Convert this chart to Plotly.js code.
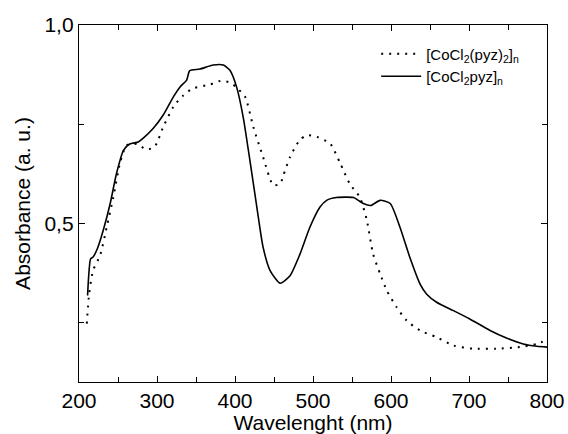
<!DOCTYPE html>
<html>
<head>
<meta charset="utf-8">
<script src="https://cdn.plot.ly/plotly-3.0.1.min.js"></script>
<style>html,body{margin:0;padding:0;background:#fff;}#chart{width:568px;height:434px;}</style>
</head>
<body>
<div id="chart"></div>
<script>
// [CoCl2(pyz)2]n  (dotted)
const wlDotted = [210, 213, 218, 227, 235.5, 244, 252.5, 261, 274, 287, 297, 308, 321, 334, 346, 368, 381, 394, 402, 413, 423.5, 436, 449, 458, 462, 470.5, 483, 492, 505, 522, 535, 547, 560, 569, 577, 586, 594.5, 607, 620, 637, 658.5, 680, 705, 735, 765, 787, 800];
const absDotted = [0.247, 0.322, 0.381, 0.419, 0.49, 0.566, 0.651, 0.697, 0.70, 0.686, 0.693, 0.743, 0.794, 0.823, 0.84, 0.85, 0.859, 0.855, 0.842, 0.819, 0.743, 0.667, 0.596, 0.600, 0.621, 0.667, 0.71, 0.722, 0.718, 0.701, 0.651, 0.60, 0.566, 0.508, 0.423, 0.373, 0.331, 0.289, 0.255, 0.23, 0.213, 0.192, 0.184, 0.184, 0.188, 0.196, 0.206];

// [CoCl2pyz]n  (solid)
const wlSolid = [211, 215, 218, 223.5, 231, 240, 248, 257, 265, 276, 282, 295, 308, 321, 329.5, 338, 342, 355, 372, 385, 393.5, 402, 410.5, 419, 428, 436, 445, 458, 470.5, 483, 496, 509, 517.5, 530, 552, 558, 564.5, 574, 586, 599, 611.5, 624, 637, 645.5, 658.5, 680, 701, 727, 748, 769.5, 787, 800];
const absSolid = [0.318, 0.411, 0.415, 0.436, 0.482, 0.55, 0.625, 0.684, 0.70, 0.705, 0.714, 0.739, 0.773, 0.819, 0.844, 0.861, 0.885, 0.889, 0.899, 0.899, 0.886, 0.844, 0.768, 0.66, 0.541, 0.44, 0.381, 0.349, 0.368, 0.421, 0.49, 0.541, 0.558, 0.565, 0.565, 0.558, 0.55, 0.545, 0.558, 0.55, 0.49, 0.415, 0.348, 0.322, 0.301, 0.28, 0.259, 0.23, 0.211, 0.196, 0.19, 0.188];

const seriesNames = ['[CoCl<sub>2</sub>(pyz)<sub>2</sub>]<sub>n</sub>', '[CoCl<sub>2</sub>pyz]<sub>n</sub>'];
const xTitle = 'Wavelenght (nm)';
const yTitle = 'Absorbance (a. u.)';

const font = 'Liberation Sans, Arial, sans-serif';

const traces = [
  {x: wlDotted, y: absDotted, name: seriesNames[0], mode: 'lines', type: 'scatter',
   line: {color: '#000', width: 2, dash: '2px,6px', shape: 'spline', smoothing: 0.6}},
  {x: wlSolid, y: absSolid, name: seriesNames[1], mode: 'lines', type: 'scatter',
   line: {color: '#000', width: 1.6, shape: 'spline', smoothing: 0.6}}
];

const layout = {
  width: 568, height: 434,
  margin: {l: 79, r: 21, t: 25, b: 52},
  paper_bgcolor: '#fff', plot_bgcolor: '#fff',
  separators: ',.',
  font: {family: font, color: '#000', size: 21},
  showlegend: true,
  legend: {x: 0.635, y: 0.965, xanchor: 'left', yanchor: 'top', bgcolor: 'rgba(0,0,0,0)',
           font: {size: 15, family: font}, tracegroupgap: 0, itemwidth: 40},
  xaxis: {
    range: [200, 800], tick0: 200, dtick: 100, ticks: 'inside', ticklen: 6, tickcolor: '#000',
    showline: true, linecolor: '#000', linewidth: 1.2, mirror: 'ticks', showgrid: false, zeroline: false,
    minor: {ticks: 'inside', dtick: 50, tick0: 200, ticklen: 5, tickcolor: '#000', showgrid: false},
    tickfont: {size: 21}, title: {text: xTitle, font: {size: 21}, standoff: 0}
  },
  yaxis: {
    range: [0.1, 1.0], tick0: 0, dtick: 0.5, tickformat: '.1f', ticks: 'inside', ticklen: 6, tickcolor: '#000',
    showline: true, linecolor: '#000', linewidth: 1.2, mirror: 'ticks', showgrid: false, zeroline: false,
    minor: {ticks: 'inside', dtick: 0.25, tick0: 0, ticklen: 5, tickcolor: '#000', showgrid: false},
    tickfont: {size: 21}, title: {text: yTitle, font: {size: 21}, standoff: 8}
  }
};

Plotly.newPlot('chart', traces, layout, {staticPlot: true, displayModeBar: false});
</script>
</body>
</html>
